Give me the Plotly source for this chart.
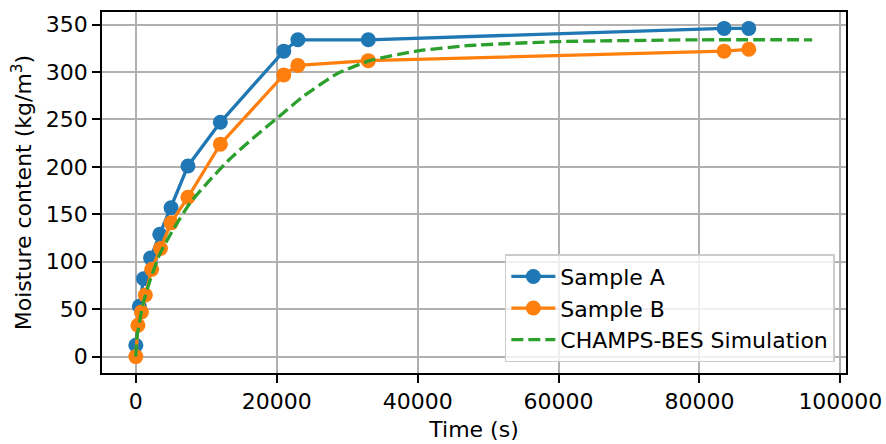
import plotly.graph_objects as go

# Data
time_a = [0, 500, 1100, 2100, 3400, 5000, 7400, 12000, 21000, 23000, 33000, 83500, 87000]
moist_a = [12, 53, 82, 104, 129, 157, 201, 247, 322, 334, 334, 346, 346]

time_b = [0, 300, 800, 1350, 2250, 3500, 5000, 7400, 12000, 21000, 23000, 33000, 83500, 87000]
moist_b = [0, 33, 47, 65, 92, 114, 141, 168, 224, 297, 307, 312, 322, 324]

sim_t = [0, 150, 570, 1000, 2000, 3400, 5300, 7700, 10500, 13300, 16600, 19000, 20000,
         23700, 28500, 33200, 39800, 47400, 59700, 80000, 96000]
sim_m = [0, 20, 38, 55, 80, 108, 134, 162, 186, 208, 230, 245, 251,
         274, 298, 312, 322, 328, 332, 334, 334]

x_ticks = [0, 20000, 40000, 60000, 80000, 100000]
y_ticks = [0, 50, 100, 150, 200, 250, 300, 350]

FONT = "DejaVu Sans"
FS = 22

fig = go.Figure()
fig.add_trace(go.Scatter(x=time_a, y=moist_a, mode="lines+markers", name="Sample A",
                         line=dict(color="#1f77b4", width=3.3),
                         marker=dict(color="#1f77b4", size=15)))
fig.add_trace(go.Scatter(x=time_b, y=moist_b, mode="lines+markers", name="Sample B",
                         line=dict(color="#ff7f0e", width=3.3),
                         marker=dict(color="#ff7f0e", size=15)))
fig.add_trace(go.Scatter(x=sim_t, y=sim_m, mode="lines", name="CHAMPS-BES Simulation",
                         line=dict(color="#2ca02c", width=3.3, dash="12px,5px",
                                   shape="spline", smoothing=0.5)))

axis_common = dict(
    showgrid=True, gridcolor="#b0b0b0", gridwidth=1.8,
    showline=True, linecolor="black", linewidth=1.8, mirror=True,
    ticks="outside", ticklen=8, tickwidth=1.8, tickcolor="black",
    zeroline=False,
    tickfont=dict(family=FONT, size=FS, color="black"),
)

fig.update_xaxes(range=[-4800, 100800], tickvals=x_ticks,
                 ticktext=[str(v) for v in x_ticks],
                 title=dict(text="Time (s)", font=dict(family=FONT, size=FS, color="black"),
                            standoff=8),
                 **axis_common)
fig.update_yaxes(range=[-17.3, 363.3], tickvals=y_ticks,
                 ticktext=[str(v) for v in y_ticks],
                 title=dict(text="Moisture content (kg/m<sup>3</sup>)",
                            font=dict(family=FONT, size=FS, color="black"), standoff=8),
                 **axis_common)

fig.update_layout(
    width=886, height=444,
    margin=dict(l=102, r=40, t=12, b=71, autoexpand=False),
    plot_bgcolor="white", paper_bgcolor="white",
    font=dict(family=FONT, size=FS, color="black"),
    legend=dict(x=0.985, y=0.03, xanchor="right", yanchor="bottom",
                bgcolor="rgba(255,255,255,0.8)", bordercolor="#cccccc", borderwidth=1.5,
                font=dict(family=FONT, size=FS, color="black"), itemwidth=44,
                entrywidth=290, tracegroupgap=0),
    showlegend=True,
)

fig.write_html("out.html")
